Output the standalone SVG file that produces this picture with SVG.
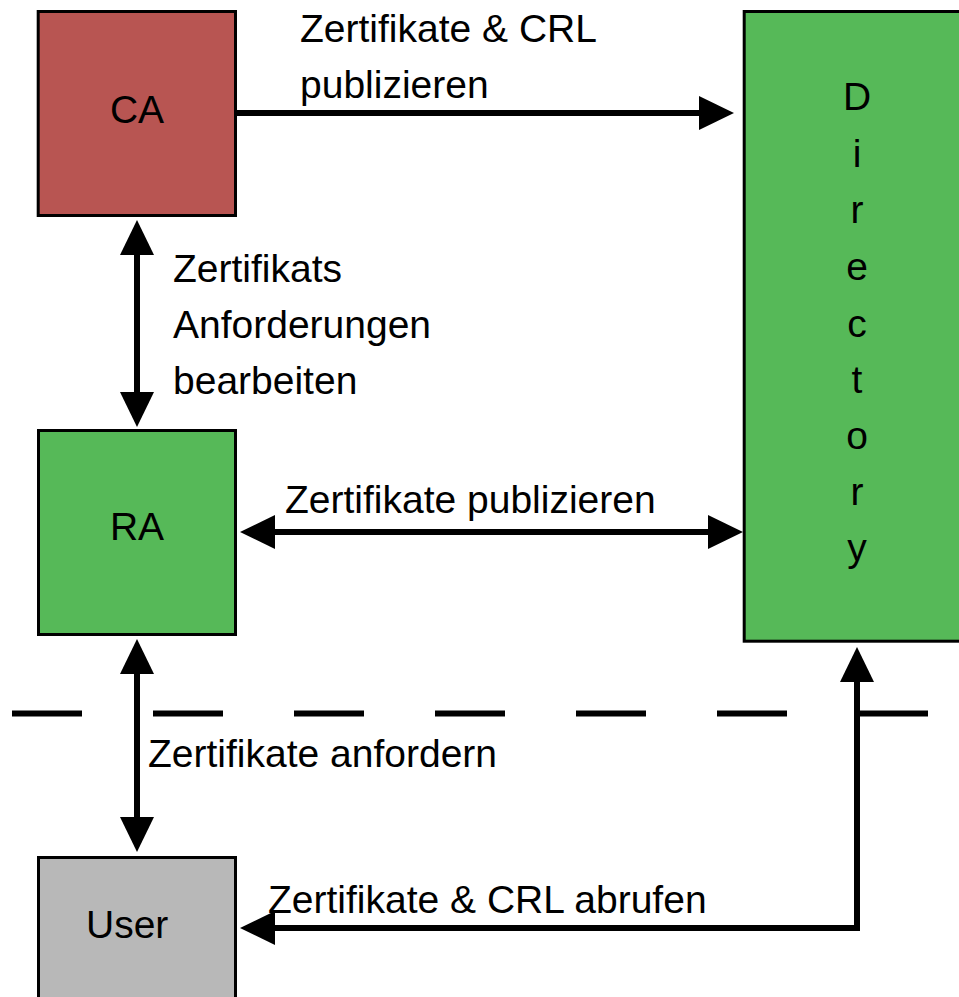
<svg xmlns="http://www.w3.org/2000/svg" width="959" height="997" viewBox="0 0 959 997">
  <style>
    .box { stroke: #000; stroke-width: 3; }
    .ca { fill: #b85552; }
    .green { fill: #56b958; }
    .user { fill: #b8b8b8; }
    text { font-family: "Liberation Sans", Arial, sans-serif; font-size: 39px; fill: #000; }
    .mid { text-anchor: middle; }
    .conn { fill: none; stroke: #000; stroke-width: 6; }
    .sep { fill: none; stroke: #000; stroke-width: 6; stroke-dasharray: 70 71; }
  </style>
  <defs>
    <marker id="arrow" viewBox="0 0 35 34" refX="5" refY="17" markerWidth="35" markerHeight="34" markerUnits="userSpaceOnUse" orient="auto-start-reverse">
      <path d="M0,0 L35,17 L0,34 Z" fill="#000"/>
    </marker>
  </defs>

  <rect width="959" height="997" fill="#fff"/>

  <!-- boundary line -->
  <line class="sep" x1="12" y1="713.5" x2="928" y2="713.5"/>

  <g id="ca">
    <rect class="box ca" x="38.2" y="11.5" width="197.3" height="204"/>
    <text class="mid" x="137" y="123">CA</text>
  </g>

  <g id="ra">
    <rect class="box green" x="38.5" y="430.5" width="197" height="204"/>
    <text class="mid" x="137" y="540">RA</text>
  </g>

  <g id="user">
    <rect class="box user" x="38.5" y="857.5" width="197" height="160"/>
    <text x="86" y="938">User</text>
  </g>

  <g id="directory">
    <rect class="box green" x="744.2" y="11.5" width="230" height="629.7"/>
    <text class="mid" x="857" y="110">D</text>
    <text class="mid" x="857" y="167">i</text>
    <text class="mid" x="857" y="223">r</text>
    <text class="mid" x="857" y="280">e</text>
    <text class="mid" x="857" y="337">c</text>
    <text class="mid" x="857" y="393">t</text>
    <text class="mid" x="857" y="449">o</text>
    <text class="mid" x="857" y="505">r</text>
    <text class="mid" x="857" y="561">y</text>
  </g>

  <g id="connectors">
    <line class="conn" x1="237" y1="113" x2="704" y2="113" marker-end="url(#arrow)"/>
    <line class="conn" x1="137" y1="250" x2="137" y2="397" marker-start="url(#arrow)" marker-end="url(#arrow)"/>
    <line class="conn" x1="270" y1="532" x2="713" y2="532" marker-start="url(#arrow)" marker-end="url(#arrow)"/>
    <line class="conn" x1="137" y1="669" x2="137" y2="822" marker-start="url(#arrow)" marker-end="url(#arrow)"/>
    <path class="conn" d="M270,928 H857 V677" marker-start="url(#arrow)" marker-end="url(#arrow)"/>
  </g>

  <g id="labels">
    <text x="300" y="42">Zertifikate &amp; CRL</text>
    <text x="300" y="98">publizieren</text>
    <text x="173" y="282">Zertifikats</text>
    <text x="173" y="338">Anforderungen</text>
    <text x="173" y="394">bearbeiten</text>
    <text x="285" y="513">Zertifikate publizieren</text>
    <text x="148" y="767">Zertifikate anfordern</text>
    <text x="268" y="913">Zertifikate &amp; CRL abrufen</text>
  </g>
</svg>
